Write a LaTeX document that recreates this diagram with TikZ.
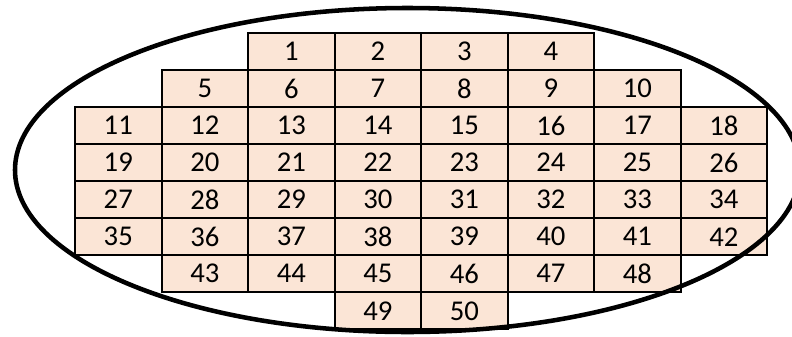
\documentclass[tikz,border=0pt]{standalone}
\usepackage{fontspec}
\setmainfont{Carlito}
\usepackage{tikz}
\definecolor{Ink}{HTML}{000000}
\definecolor{CellPeach}{HTML}{FBE5D6}
\tikzset{
  cellbox/.style={
    rectangle,
    draw=Ink,
    fill=CellPeach,
    line width=1.5pt,
    minimum width=64.9pt,
    minimum height=27.8pt,
    inner sep=0pt,
    font=\fontsize{21.5}{25}\selectfont
  },
  ring/.style={draw=Ink, line width=3.4pt}
}

\begin{document}
\begin{tikzpicture}[x=0.75pt, y=-0.75pt]
        \useasboundingbox (0,0) rectangle (792,336);
        % row / first column / last column / first number
        \foreach \row/\first/\last/\start in
            {0/2/5/1, 1/1/6/5, 2/0/7/11, 3/0/7/19,
             4/0/7/27, 5/0/7/35, 6/1/6/43, 7/3/4/49}{
          \foreach \col [evaluate=\col as \num using int(\start+\col-\first)]
              in {\first,...,\last}{
            \node[cellbox] (cell\num) at ({75+86.53*(\col+0.5)},{33+37.04*(\row+0.5)}) {\num};
          }
        }
        % outer ring, drawn over the cells
        \draw[ring] (407.5,170) ellipse [x radius=392.5, y radius=162];
      \end{tikzpicture}
\end{document}
